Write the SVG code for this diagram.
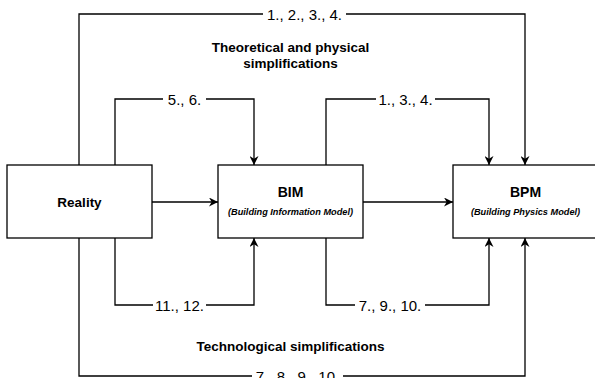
<svg xmlns="http://www.w3.org/2000/svg" width="595" height="378" viewBox="0 0 595 378">
<style>
.box{fill:#fff;stroke:#000;stroke-width:1.3}
.ln{fill:none;stroke:#000;stroke-width:1.3}
.lbl{font-family:"Liberation Sans",Arial,sans-serif;font-size:15px;fill:#000;text-anchor:middle}
.bg{fill:#fff}
.t{font-family:"Liberation Sans",Arial,sans-serif;font-weight:bold;fill:#000;text-anchor:middle}
.st{font-family:"Liberation Sans",Arial,sans-serif;font-weight:bold;font-style:italic;font-size:9.2px;fill:#000;text-anchor:middle}
</style>
<defs>
<marker id="ah" viewBox="0 0 10 10" refX="10" refY="5" markerWidth="9" markerHeight="9" markerUnits="userSpaceOnUse" orient="auto">
<path d="M0,0 L10,5 L0,10 L3,5 Z" fill="#000"/>
</marker>
</defs>
<rect width="595" height="378" fill="#fff"/>
<g id="connectors">
<path class="ln" d="M79,165 V14 H525 V165" marker-end="url(#ah)"/>
<path class="ln" d="M115,165 V99 H254 V165" marker-end="url(#ah)"/>
<path class="ln" d="M326,165 V99 H489 V165" marker-end="url(#ah)"/>
<path class="ln" d="M115,238 V305 H254 V238" marker-end="url(#ah)"/>
<path class="ln" d="M326,238 V305 H489 V238" marker-end="url(#ah)"/>
<path class="ln" d="M79,238 V376 H525 V238" marker-end="url(#ah)"/>
<path class="ln" d="M152,202 H218" marker-end="url(#ah)"/>
<path class="ln" d="M363,202 H453" marker-end="url(#ah)"/>
<rect class="bg" x="263" y="6" width="83" height="16"/>
<text class="lbl" x="304.5" y="19.5">1., 2., 3., 4.</text>
<rect class="bg" x="163" y="91" width="43" height="16"/>
<text class="lbl" x="184.5" y="104.5">5., 6.</text>
<rect class="bg" x="376" y="91" width="59" height="16"/>
<text class="lbl" x="405.5" y="104.5">1., 3., 4.</text>
<rect class="bg" x="153" y="297" width="53" height="16"/>
<text class="lbl" x="179.5" y="310.5">11., 12.</text>
<rect class="bg" x="355" y="297" width="70" height="16"/>
<text class="lbl" x="390" y="310.5">7., 9., 10.</text>
<rect class="bg" x="252" y="368" width="91" height="16"/>
<text class="lbl" x="297.5" y="381.5">7., 8., 9., 10.</text>
</g>
<g id="reality">
<rect class="box" x="7" y="165" width="145" height="73"/>
<text class="t" x="79.5" y="207" font-size="13.5">Reality</text>
</g>
<g id="bim">
<rect class="box" x="218" y="165" width="145" height="73"/>
<text class="t" x="290.5" y="197" font-size="14">BIM</text>
<text class="st" x="290.5" y="215">(Building Information Model)</text>
</g>
<g id="bpm">
<rect class="box" x="453" y="165" width="145" height="73"/>
<text class="t" x="525.5" y="197" font-size="14">BPM</text>
<text class="st" x="525.5" y="215">(Building Physics Model)</text>
</g>
<g id="annotations">
<text class="t" x="290.5" y="52" font-size="13.5">Theoretical and physical</text>
<text class="t" x="290.5" y="68" font-size="13.5">simplifications</text>
<text class="t" x="290.5" y="351" font-size="13.5">Technological simplifications</text>
</g>
</svg>
